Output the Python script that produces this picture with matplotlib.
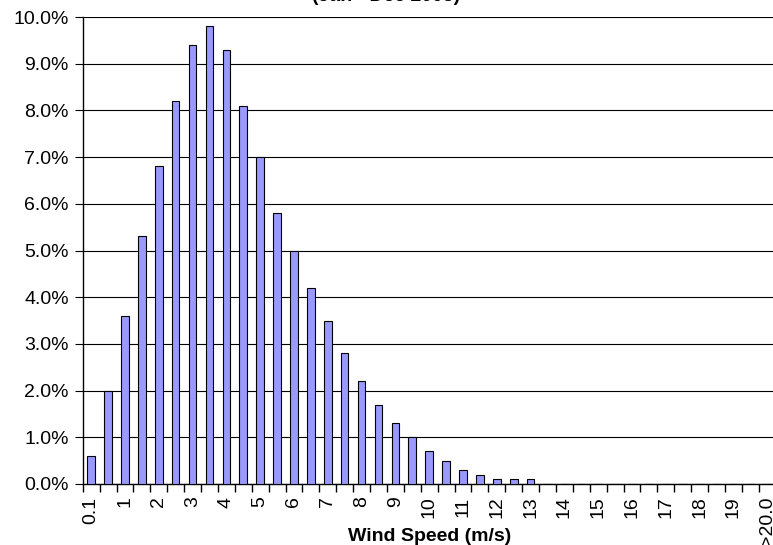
import numpy as np
import matplotlib.pyplot as plt
from matplotlib.ticker import FuncFormatter, FixedLocator

plt.rcParams['font.family'] = ['Liberation Sans', 'DejaVu Sans']

# wind speed bins (m/s); label shown on every other bin
bins = ['0.1', '0.5', '1', '1.5', '2', '2.5', '3', '3.5', '4', '4.5', '5', '5.5',
        '6', '6.5', '7', '7.5', '8', '8.5', '9', '9.5', '10', '10.5', '11', '11.5',
        '12', '12.5', '13', '13.5', '14', '14.5', '15', '15.5', '16', '16.5', '17',
        '17.5', '18', '18.5', '19', '19.5', '>20.0']
freq = [0.6, 2.0, 3.6, 5.3, 6.8, 8.2, 9.4, 9.8, 9.3, 8.1, 7.0, 5.8, 5.0, 4.2, 3.5,
        2.8, 2.2, 1.7, 1.3, 1.0, 0.7, 0.5, 0.3, 0.2, 0.1, 0.1, 0.1, 0, 0, 0, 0, 0,
        0, 0, 0, 0, 0, 0, 0, 0, 0]

W, H = 773, 545
fig = plt.figure(figsize=(W / 100, H / 100), dpi=100)
# plot area runs slightly past the right edge, like the original
ax = fig.add_axes([82.7 / W, (H - 484) / H, 693 / W, 467 / H])

x = np.arange(len(bins))
ax.bar(x, freq, width=0.45, color='#9999FF', edgecolor='black', linewidth=0.8, zorder=3)

ax.set_xlim(-0.5, len(bins) - 0.5)
ax.set_ylim(0, 10)
ax.set_yticks(np.arange(0, 11, 1))
ax.yaxis.set_major_formatter(FuncFormatter(lambda v, p: f'{v:.1f}%'))
ax.yaxis.grid(True, color='black', linewidth=0.8, zorder=0)
ax.tick_params(axis='y', length=6, labelsize=14, direction='out', pad=4)

# labels every other bin, tick marks at bin edges
lab_pos = list(range(0, len(bins), 2))
ax.set_xticks(lab_pos)
ax.set_xticklabels([bins[i] for i in lab_pos], rotation=90, fontsize=14)
ax.tick_params(axis='x', which='major', length=0, pad=9)
ax.xaxis.set_minor_locator(FixedLocator(np.arange(-0.5, len(bins), 1)))
ax.tick_params(axis='x', which='minor', length=6, width=1, direction='out')

for s in ['top', 'right']:
    ax.spines[s].set_visible(False)
ax.spines['left'].set_linewidth(1)
ax.spines['bottom'].set_linewidth(1)

ax.set_xlabel('Wind Speed (m/s)', fontsize=14, fontweight='bold')
ax.xaxis.set_label_coords(0.5, (484 - 528) / 467)
# title sits mostly above the top edge, only its bottom shows
fig.text(0.5, 1 - 1 / H, 'Wind Speed Distribution\n(Jan - Dec 2005)', ha='center',
         va='baseline', fontsize=14, fontweight='bold')

plt.savefig('out.png', dpi=100)
